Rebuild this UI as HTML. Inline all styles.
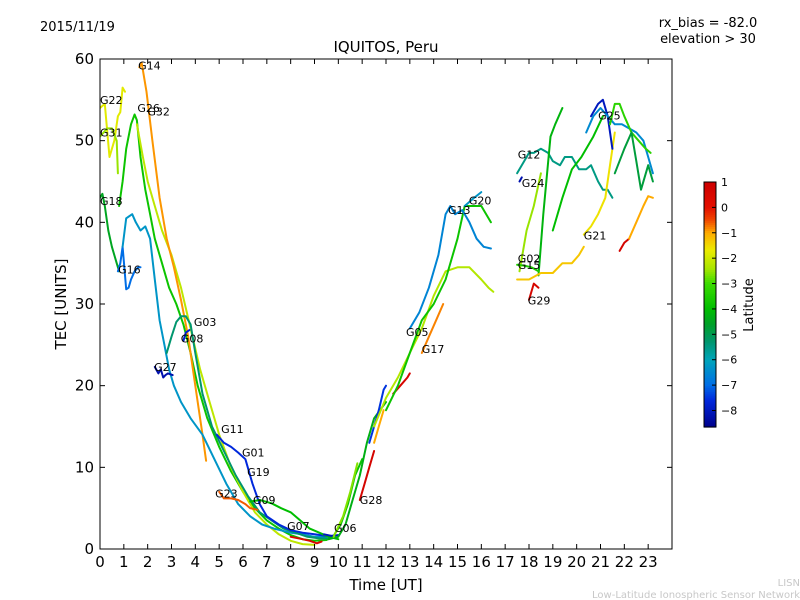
<!DOCTYPE html>
<html><head><meta charset="utf-8"><style>
body{margin:0;background:#fff;}
svg{display:block;font-family:"DejaVu Sans","Liberation Sans",sans-serif;}
</style></head><body>
<svg id="chart" width="800" height="600" viewBox="0 0 800 600" xmlns="http://www.w3.org/2000/svg">
<rect width="800" height="600" fill="#fff"/>
<text x="40" y="31" font-size="13">2015/11/19</text>
<text x="708" y="27" font-size="13" text-anchor="middle">rx_bias = -82.0</text>
<text x="708" y="43" font-size="13" text-anchor="middle">elevation &gt; 30</text>
<text x="386" y="52" font-size="15" text-anchor="middle">IQUITOS, Peru</text>
<text x="386" y="590" font-size="15" text-anchor="middle">Time [UT]</text>
<text transform="translate(66,304) rotate(-90)" font-size="15" text-anchor="middle">TEC [UNITS]</text>
<text x="800" y="586" font-size="10" fill="#c8c8c8" text-anchor="end">LISN</text>
<text x="800" y="598" font-size="10" fill="#c8c8c8" text-anchor="end">Low-Latitude Ionospheric Sensor Network</text>
<g id="plot"></g>
<g id="axes"></g>
<g id="cbar"></g>
</svg>
<script>
const xTicks=[0,1,2,3,4,5,6,7,8,9,10,11,12,13,14,15,16,17,18,19,20,21,22,23];
const yTicks=[0,10,20,30,40,50,60];
const cbTicks=[1,0,-1,-2,-3,-4,-5,-6,-7,-8];
const seriesNames=["G22","G31","G18","G26","G32","G14","G16","G27a","G03","G08","G27","G11","G23","G09","G07","G06","G06b","G10","G28","G28b","G17b","G33","G17","G34","G20","G05","G35","G12","G24","G36","G37","G15","G29","G02","G38","G21","G25","G39","G40","G41","G42","G43"];
const seriesT=[
[0,0.2,0.4,0.6,0.75,0.85,0.95,1.05],
[0,0.3,0.5,0.7,0.75],
[0,0.1,0.2,0.35,0.5,0.7,0.8],
[0.8,0.95,1.1,1.3,1.45,1.55,1.7,1.9,2.1,2.3,2.6,2.9,3.2,3.5,3.8,4.1,4.5,5,5.5,6,6.5,7,7.5,8,8.5,9,9.5,9.8,10.1,10.4,10.7,11],
[1.55,1.8,2,2.3,2.6,3,3.4,3.8,4.2,4.6,5,5.5,6,6.5,7,7.5,8,8.5,9],
[1.65,1.75,1.95,2.2,2.5,2.8,3.1,3.4,3.7,3.95,4.15,4.3,4.45],
[0.75,0.85,0.95,1.1,1.2,1.3,1.45,1.6,1.7],
[0.95,1.1,1.35,1.5,1.7,1.9,2.1,2.3,2.5,2.7,2.9,3.1,3.4,3.8,4.3,4.8,5.3,5.8,6.3,6.8,7.3,8,8.5,9,9.5],
[2.8,3,3.2,3.4,3.6,3.8,4,4.3,4.7,5.2,5.7,6.2,6.7,7.2,7.7,8.2,8.7,9.2,9.7],
[3.5,3.6,3.75],
[2.3,2.45,2.55,2.65,2.75,2.85,3.05],
[4.9,5.2,5.5,5.8,6.1,6.4,6.7,7,7.5,8,8.5,9,9.5,9.8],
[5,5.2,5.5,5.8,6.1,6.3,6.6],
[6.3,6.7,7.2,7.6,8,8.4,8.8,9.2,9.6,10],
[8,8.5,8.8,9.1,9.3],
[9.4,9.7,10],
[9.6,10,10.3,10.6,10.9,11.2,11.5,12],
[9.8,10.2,10.5,10.8],
[10.9,11.1,11.3,11.5],
[11.5,11.7,11.9],
[11.3,11.5,11.7,11.9,12],
[11.5,12,12.5,13,13.5,14,14.5,15,15.5,16,16.3,16.5],
[13.5,13.8,14.1,14.4],
[12.3,12.6,12.9,13],
[12,12.5,13,13.5,14,14.5,15,15.3,15.6,16,16.4],
[13,13.4,13.8,14.2,14.5,14.7,14.9,15.2,15.5,15.8,16.1,16.4],
[15.3,15.7,16],
[17.5,17.8,18,18.2,18.5,18.8,19,19.3,19.5,19.8,20.1,20.4,20.6,20.9,21.1,21.3,21.5],
[17.6,17.7],
[18.4,18.6,18.9,19.1,19.4],
[17.6,17.9,18.2,18.5],
[17.5,18,18.5,19,19.4,19.8,20.1,20.3],
[18,18.2,18.4],
[17.5,17.8,18.1,18.4],
[19,19.4,19.8,20.2,20.7,21.1],
[20.3,20.6,20.9,21.2,21.4,21.6],
[20.6,20.9,21.1,21.3,21.5],
[20.4,20.7,21,21.3,21.6,21.9,22.2,22.5,22.8,23,23.2],
[21.4,21.6,21.8,22,22.3,22.6,22.9,23.1],
[21.6,22,22.3,22.5,22.7,23,23.2],
[21.8,22,22.2],
[22.2,22.5,22.8,23,23.2]
];
const seriesV=[
[54,54.5,48,50,53,53.5,56.5,56],
[50.5,51.5,51.5,50,46],
[43,43.5,42,39,37,35,34],
[42,45,49,52,53.2,52.5,48,44,41,38,35,32,30,27.5,24,20,16,12.5,9.5,7,5,3.5,2.5,1.7,1.2,1,1.1,1.6,3,5.5,9,11],
[52,48,45,42,39,36,32,27,22,18,14,10,7,4.5,3,1.8,1,0.6,0.5],
[59,59.5,56,50,43,38,34.5,30.5,26,21,17,14,10.8],
[34,35,37,31.8,32,33,34,34.5,34.5],
[37,40.5,41,40,39,39.5,38,33,28,25,22,20,18,16,14,11,8,5.5,4,3,2.5,2,1.8,1.5,1.5],
[24,26,27.8,28.5,28.5,27.5,24,19,15,12,9,6.5,4.5,3.5,2.5,2,1.5,1.3,1.3],
[25.5,26.5,26.8],
[22.3,21.5,22,21,21.3,21.5,21.3],
[14,13,12.5,11.8,11,8,5.5,4,3,2.3,2,1.8,1.6,1.6],
[7,6.2,6.2,6,5.5,5,4.8],
[5.8,6,5.6,5,4.5,3.5,2.5,2,1.5,1.2],
[1.5,1.2,1,0.7,0.9],
[1.8,1.6,1.7],
[1.2,1.5,3,6,9,13,16,18],
[1.5,4,7,10.5],
[6,8,10,12],
[13,15,17],
[13,15,17,19.5,20],
[15,18.5,21,24,27,31,34,34.5,34.5,33,32,31.5],
[24,26,28,30],
[19,20,21,21.5],
[17,20,24,28,30,33,38,42,42,42,40],
[27,29,32,36,41,42,41,41.5,40,38,37,36.8],
[42,43,43.7],
[46,47.5,48.5,48.5,49,48.5,47.5,47,48,48,46.5,46.5,47,45,44,44,43],
[45,45.5],
[33.5,41,50.5,52,54],
[34,39,42,46],
[33,33,33.8,33.8,35,35,36,37],
[30.5,32.5,32],
[34.8,34.7,34.5,34],
[39,43,46.5,48,50.5,53],
[38.5,39.5,41,43,47,51],
[53,54.5,55,53,49],
[51,53,54,53,52,52,51.5,51,50,48,46],
[52,54.5,54.5,53,51,50,49,48.5],
[46,49,51,47.5,44,47,45],
[36.5,37.5,38],
[38,40,42,43.2,43]
];
const seriesLat=[-1.8,-2.5,-4.5,-3.8,-2.2,-0.9,-7,-6.3,-5.3,-7.8,-8.2,-7.6,-0.6,-4,0.5,-8,-4.3,-2.6,0.7,-1,-7.5,-2.3,-0.8,0.6,-3.8,-6.6,-6.3,-5.5,-8.2,-4.2,-2.5,-1.3,0.6,-3.5,-4,-1.6,-8,-6.5,-3.3,-4.8,0.7,-1];
const labelNames=["G14","G22","G26","G32","G31","G18","G16","G03","G08","G27","G11","G01","G19","G23","G09","G07","G06","G28","G05","G17","G13","G20","G12","G24","G02","G15","G29","G21","G25"];
const labelT=[1.6,0,1.57,1.99,0,0,0.76,3.94,3.39,2.27,5.08,5.96,6.17,4.83,6.42,7.85,9.82,10.9,12.84,13.5,14.6,15.48,17.53,17.7,17.53,17.53,17.95,20.3,20.9];
const labelV=[59.2,55,54,53.6,51,42.6,34.2,27.8,25.8,22.3,14.7,11.8,9.4,6.8,6,2.8,2.6,6,26.6,24.5,41.5,42.7,48.3,44.8,35.6,34.8,30.4,38.4,53.1];

const X0=100,X1=672,Y0=549,Y1=59;
const xs=t=>X0+t*(X1-X0)/24;
const ys=v=>Y0-v*(Y0-Y1)/60;
const CB0=182,CB1=427,cbMax=1,cbMin=-8.65;
const cbY=l=>CB0+(cbMax-l)*(CB1-CB0)/(cbMax-cbMin);
const cmapStops=[[1,205,0,0],[0,228,15,0],[-0.5,240,70,0],[-1,255,170,0],[-1.7,235,235,0],[-2.4,170,230,0],[-3,60,220,0],[-4,0,190,0],[-4.6,0,160,40],[-5.3,0,150,110],[-6,0,165,185],[-7,0,110,230],[-7.6,0,40,220],[-8.65,0,0,140]];
function jet(l){
  if(l>=cmapStops[0][0])return `rgb(205,0,0)`;
  for(let k=0;k<cmapStops.length-1;k++){
    const a=cmapStops[k],b=cmapStops[k+1];
    if(l<=a[0]&&l>=b[0]){const f=(a[0]-l)/(a[0]-b[0]);
      return `rgb(${Math.round(a[1]+f*(b[1]-a[1]))},${Math.round(a[2]+f*(b[2]-a[2]))},${Math.round(a[3]+f*(b[3]-a[3]))})`;}
  }
  return 'rgb(0,0,140)';
}
const NS="http://www.w3.org/2000/svg";
function mk(tag,attrs,parent){const e=document.createElementNS(NS,tag);for(const k in attrs)e.setAttribute(k,attrs[k]);parent.appendChild(e);return e;}
const plot=document.getElementById('plot');
const axes=document.getElementById('axes');
const cbar=document.getElementById('cbar');
mk('clipPath',{id:'clip'},plot);
mk('rect',{x:X0,y:Y1,width:X1-X0,height:Y0-Y1},plot.lastChild);
const lines=mk('g',{'clip-path':'url(#clip)'},plot);
seriesT.forEach((ts,i)=>{
  const pts=ts.map((t,j)=>xs(t).toFixed(1)+','+ys(seriesV[i][j]).toFixed(1)).join(' ');
  const p=mk('polyline',{points:pts,fill:'none',stroke:jet(seriesLat[i]),'stroke-width':2,'stroke-linejoin':'round','stroke-linecap':'round'},lines);
  
  
});
labelNames.forEach((n,i)=>{
  const t=mk('text',{x:xs(labelT[i]).toFixed(1),y:(ys(labelV[i])+4).toFixed(1),'font-size':11},plot);
  t.textContent=n;
  
  
});
const frame=mk('rect',{x:X0,y:Y1,width:X1-X0,height:Y0-Y1,fill:'none',stroke:'#000','stroke-width':1},axes);


xTicks.forEach(t=>{
  const x=xs(t);
  mk('line',{x1:x,x2:x,y1:Y0,y2:Y0-5,stroke:'#000'},axes);
  mk('line',{x1:x,x2:x,y1:Y1,y2:Y1+5,stroke:'#000'},axes);
  const tx=mk('text',{x:x,y:Y0+18,'font-size':15,'text-anchor':'middle'},axes);
  tx.textContent=t;
  
  
});
yTicks.forEach(v=>{
  const y=ys(v);
  mk('line',{x1:X0,x2:X0+5,y1:y,y2:y,stroke:'#000'},axes);
  mk('line',{x1:X1,x2:X1-5,y1:y,y2:y,stroke:'#000'},axes);
  const tx=mk('text',{x:X0-6,y:y+5,'font-size':15,'text-anchor':'end'},axes);
  tx.textContent=v;
  
  
});
const N=120;
for(let k=0;k<N;k++){
  const l=cbMax-(k+0.5)*(cbMax-cbMin)/N;
  mk('rect',{x:704,y:(CB0+k*(CB1-CB0)/N).toFixed(2),width:12,height:((CB1-CB0)/N+0.6).toFixed(2),fill:jet(l)},cbar);
}
const cbf=mk('rect',{x:704,y:CB0,width:12,height:CB1-CB0,fill:'none',stroke:'#000'},cbar);


cbTicks.forEach(v=>{
  const y=cbY(v);
  mk('line',{x1:712,x2:716,y1:y,y2:y,stroke:'#000'},cbar);
  const tx=mk('text',{x:721,y:y+4,'font-size':11},cbar);
  tx.textContent=v===0?'0':(v<0?'\u2212'+(-v):String(v));
  
  
});
const cbt=mk('text',{transform:'translate(753,305) rotate(-90)','font-size':13,'text-anchor':'middle'},cbar);
cbt.textContent='Latitude';


</script>
</body></html>
